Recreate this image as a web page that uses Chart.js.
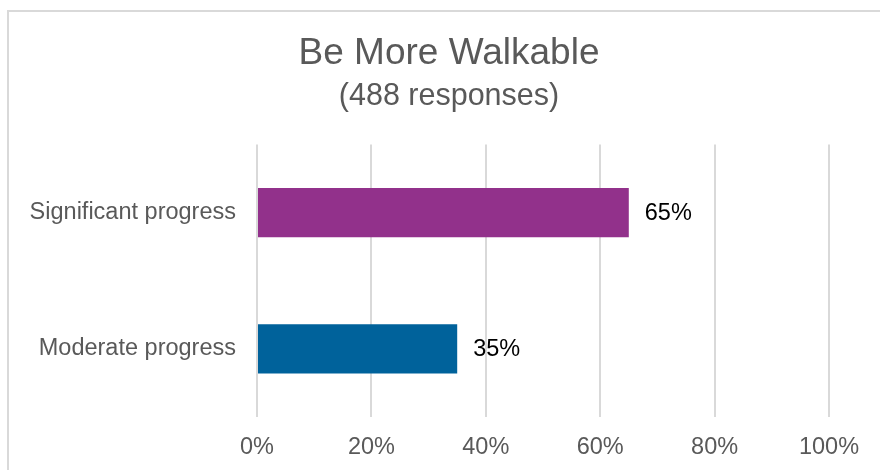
<!DOCTYPE html>
<html>
<head>
<meta charset="utf-8">
<script src="https://cdn.jsdelivr.net/npm/chart.js@4.4.1/dist/chart.umd.min.js"></script>
<style>
  html, body { margin: 0; padding: 0; background: #ffffff; }
  #wrap { position: relative; width: 880px; height: 470px; overflow: hidden; }
  #frame { position: absolute; left: 7px; top: 10px; width: 900px; height: 500px; border: 2px solid #d9d9d9; box-sizing: border-box; }
  canvas { position: absolute; left: 0; top: 0; }
</style>
</head>
<body>
<div id="wrap">
  <div id="frame"></div>
  <canvas id="c" width="880" height="470"></canvas>
</div>
<script>
const titleText = "Be More Walkable";
const subtitleText = "(488 responses)";
const categories = ["Significant progress", "Moderate progress"];
const values = [65, 35];
const barColors = ["#92318B", "#00629B"];
const tickValues = [0, 20, 40, 60, 80, 100];

const FONT = "'Liberation Sans', Arial, sans-serif";

const valueLabels = {
  id: 'valueLabels',
  afterDatasetsDraw(chart) {
    const ctx = chart.ctx;
    const meta = chart.getDatasetMeta(0);
    ctx.save();
    ctx.font = "23.5px " + FONT;
    ctx.fillStyle = "#000000";
    ctx.textAlign = "left";
    ctx.textBaseline = "middle";
    meta.data.forEach((el, i) => {
      ctx.fillText(values[i] + "%", el.x + 16, el.y + 1);
    });
    ctx.restore();
  }
};

new Chart(document.getElementById('c'), {
  type: 'bar',
  data: {
    labels: categories,
    datasets: [{
      data: values,
      backgroundColor: barColors,
      borderWidth: 0,
      barPercentage: 0.36,
      categoryPercentage: 1
    }]
  },
  plugins: [valueLabels],
  options: {
    indexAxis: 'y',
    responsive: false,
    animation: false,
    devicePixelRatio: 1,
    layout: { padding: { left: 18, right: 0, top: 0, bottom: 0 } },
    plugins: {
      legend: { display: false },
      tooltip: { enabled: false },
      title: {
        display: true,
        text: titleText,
        color: "#595959",
        font: { family: FONT, size: 37, weight: 'normal', lineHeight: 1.2 },
        padding: { top: 32, bottom: 1.5 }
      },
      subtitle: {
        display: true,
        text: subtitleText,
        color: "#595959",
        font: { family: FONT, size: 30.5, weight: 'normal', lineHeight: 1.2 },
        padding: { top: 0, bottom: 30 }
      }
    },
    scales: {
      x: {
        min: 0,
        max: 100,
        afterBuildTicks(scale) { scale.ticks = tickValues.map(v => ({ value: v })); },
        afterFit(scale) { scale.height = 53; },
        ticks: {
          color: "#595959",
          font: { family: FONT, size: 23.5 },
          padding: 16,
          maxRotation: 0,
          callback: (v) => v + "%"
        },
        grid: { color: "#d9d9d9", lineWidth: 2, drawTicks: false },
        border: { display: false }
      },
      y: {
        afterFit(scale) { scale.width = 239; scale.paddingTop = 0; scale.paddingBottom = 0; },
        ticks: {
          color: "#595959",
          font: { family: FONT, size: 23.5 },
          padding: 21
        },
        grid: { display: false, drawTicks: false },
        border: { display: false }
      },
      spacer: {
        type: 'linear',
        position: 'right',
        display: true,
        afterFit(scale) { scale.width = 51; scale.paddingTop = 0; scale.paddingBottom = 0; },
        ticks: { display: false },
        grid: { display: false, drawTicks: false },
        border: { display: false }
      }
    }
  }
});
</script>
</body>
</html>
